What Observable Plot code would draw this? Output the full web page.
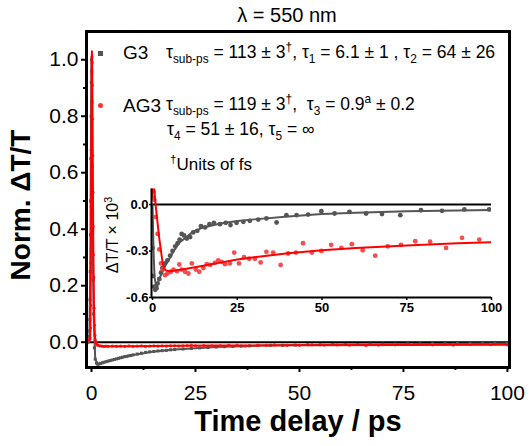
<!DOCTYPE html>
<html><head><meta charset="utf-8">
<script src="https://cdn.jsdelivr.net/npm/d3@7"></script>
<script src="https://cdn.jsdelivr.net/npm/@observablehq/plot@0.6"></script>
<style>
body{margin:0;background:#fff;font-family:"Liberation Sans",Arial,sans-serif;}
#wrap{position:relative;width:529px;height:446px;overflow:hidden;background:#fff}
.abs{position:absolute;white-space:pre;color:#000;line-height:1}
sub,sup{font-size:0.68em;line-height:0}
.rot{transform:translate(-50%,-50%) rotate(-90deg)}
</style></head><body>
<div id="wrap">
<div id="main" class="abs" style="left:0;top:0"></div>
<div id="inset" class="abs" style="left:100px;top:175px"></div>
<div class="abs" style="left:187px;width:200px;top:5px;text-align:center;font-size:20px">λ = 550 nm</div>
<div class="abs" style="left:98px;top:51px;width:5px;height:5px;background:#555"></div>
<div class="abs" style="left:123px;top:43px;font-size:19px">G3</div>
<div class="abs" style="left:166px;top:44px;font-size:17.5px">τ<sub>sub-ps</sub> = 113 ± 3<sup>†</sup>, τ<sub>1</sub> = 6.1 ± 1 , τ<sub>2</sub> = 64 ± 26</div>
<div class="abs" style="left:98px;top:103px;width:5px;height:5px;border-radius:50%;background:#f33"></div>
<div class="abs" style="left:123px;top:96px;font-size:19px">AG3</div>
<div class="abs" style="left:166px;top:96px;font-size:17.5px">τ<sub>sub-ps</sub> = 119 ± 3<sup>†</sup>,  τ<sub>3</sub> = 0.9<sup>a</sup> ± 0.2</div>
<div class="abs" style="left:167px;top:121px;font-size:17.5px">τ<sub>4</sub> = 51 ± 16, τ<sub>5</sub> = ∞</div>
<div class="abs" style="left:170px;top:156px;font-size:17px"><sup>†</sup>Units of fs</div>
<div class="abs rot" style="left:21px;top:205px;font-size:28px;font-weight:bold">Norm. ΔT/T</div>
<div class="abs" style="left:148px;width:300px;top:407px;text-align:center;font-size:29px;font-weight:bold">Time delay / ps</div>
<div class="abs rot" style="left:113px;top:235px;font-size:16px">ΔT/T × 10<sup>3</sup></div>
</div>
<script>
// Main panel (normalized) : [time ps, norm dT/T]
const g3Main = [[-1.1,0.0],[-0.9,0.0],[-0.7,0.004],[-0.6,0.01],[-0.5,0.02],[-0.45,0.04],[-0.4,0.08],[-0.35,0.15],[-0.3,0.25],[-0.25,0.38],[-0.2,0.5],[-0.15,0.65],[-0.1,0.8],[-0.05,0.92],[0,1.0],[0.05,0.96],[0.1,0.85],[0.2,0.62],[0.3,0.4],[0.4,0.22],[0.5,0.1],[0.7,-0.02],[0.9,-0.06],[1.2,-0.074],[1.5,-0.078],[1.8,-0.077],[2.2,-0.075],[2.6,-0.073],[3,-0.071],[3.5,-0.069],[4,-0.067],[4.5,-0.065],[5,-0.063],[5.5,-0.061],[6,-0.059],[6.5,-0.057],[7,-0.055],[7.5,-0.053],[8,-0.051],[8.5,-0.05],[9,-0.048],[9.5,-0.047],[10,-0.045],[11,-0.042],[12,-0.039],[13,-0.036],[14,-0.034],[15,-0.033],[16,-0.031],[17,-0.03],[18,-0.029],[19,-0.027],[20,-0.026],[22,-0.024],[24,-0.022],[26,-0.02],[28,-0.019],[30,-0.017],[32,-0.016],[34,-0.015],[36,-0.014],[38,-0.013],[40,-0.012],[43,-0.011],[46,-0.011],[49,-0.01],[52,-0.009],[55,-0.009],[58,-0.008],[61,-0.008],[64,-0.008],[67,-0.007],[70,-0.007],[73,-0.007],[76,-0.006],[79,-0.006],[82,-0.006],[85,-0.006],[88,-0.005],[91,-0.006],[94,-0.005],[97,-0.005],[100,-0.005]];
const ag3Main = [[-1.1,0.005],[-0.9,0.004],[-0.7,0.008],[-0.5,0.01],[-0.35,0.015],[-0.25,0.05],[-0.2,0.13],[-0.15,0.28],[-0.1,0.48],[-0.05,0.68],[0,0.84],[0.05,0.95],[0.1,1.01],[0.15,0.99],[0.2,0.91],[0.25,0.79],[0.3,0.66],[0.35,0.53],[0.4,0.41],[0.45,0.31],[0.5,0.23],[0.6,0.12],[0.7,0.06],[0.8,0.025],[0.9,0.008],[1.0,-0.002],[1.2,-0.008],[1.5,-0.011],[2,-0.013],[2.5,-0.014],[3,-0.015],[3.5,-0.014],[4,-0.015],[5,-0.014],[6,-0.015],[7,-0.014],[8,-0.015],[9,-0.013],[10,-0.015],[11,-0.014],[12,-0.013],[13,-0.015],[14,-0.014],[15,-0.013],[16,-0.014],[17,-0.013],[18,-0.014],[19,-0.013],[20,-0.013],[21,-0.014],[22,-0.013],[23,-0.012],[24,-0.011],[25,-0.013],[27,-0.012],[29,-0.013],[31,-0.013],[33,-0.011],[35,-0.011],[37,-0.014],[40,-0.011],[42,-0.011],[44,-0.009],[47,-0.011],[50,-0.011],[53,-0.009],[56,-0.01],[59,-0.009],[62,-0.01],[66,-0.012],[69,-0.01],[73,-0.009],[77,-0.008],[82,-0.009],[87,-0.01],[91,-0.008],[96,-0.008],[100,-0.009]];
const g3FitMain = [[-1.1,0.0],[-0.5,0.02],[-0.3,0.25],[-0.1,0.8],[0,1.0],[0.1,0.85],[0.3,0.4],[0.5,0.1],[0.9,-0.06],[1.5,-0.078],[3,-0.071],[5,-0.063],[10,-0.045],[15,-0.033],[20,-0.026],[30,-0.017],[40,-0.012],[60,-0.008],[80,-0.006],[100,-0.005]];
const ag3FitMain = [[-1.1,0.004],[-0.35,0.01],[-0.25,0.05],[-0.15,0.28],[-0.05,0.68],[0.05,0.96],[0.1,1.03],[0.15,1.0],[0.25,0.8],[0.35,0.54],[0.45,0.32],[0.6,0.12],[0.8,0.025],[1,-0.003],[1.5,-0.011],[2.5,-0.014],[5,-0.0145],[10,-0.014],[20,-0.013],[30,-0.012],[50,-0.011],[75,-0.0095],[100,-0.009]];

// Inset (dT/T x 10^3)
const g3Inset = [[0,-0.28],[0.2,-0.46],[0.5,-0.53],[0.8,-0.55],[1.0,-0.53],[1.2,-0.54],[1.5,-0.51],[2.0,-0.48],[2.5,-0.44],[2.9,-0.41],[3.7,-0.38],[4.4,-0.36],[5.2,-0.33],[5.9,-0.30],[6.7,-0.27],[7.4,-0.25],[8.0,-0.226],[8.6,-0.19],[9.3,-0.20],[10.1,-0.22],[11.1,-0.21],[12,-0.18],[13.2,-0.17],[14.3,-0.14],[15.5,-0.148],[16.8,-0.127],[18.1,-0.118],[19.9,-0.127],[21.6,-0.118],[23,-0.133],[24.8,-0.118],[26.8,-0.112],[28.7,-0.105],[31.2,-0.097],[33.6,-0.09],[36.6,-0.116],[39.5,-0.069],[42.5,-0.069],[45.9,-0.065],[49.8,-0.043],[53.7,-0.058],[58.1,-0.047],[63,-0.058],[67.7,-0.062],[73.1,-0.069],[79.2,-0.037],[85.4,-0.041],[92,-0.032],[99.3,-0.032]];
const ag3Inset = [[-0.2,0.05],[0.1,0.09],[0.3,0.08],[0.5,0.03],[1.0,-0.08],[1.5,-0.19],[2.0,-0.29],[2.5,-0.38],[3.0,-0.42],[3.7,-0.456],[4.4,-0.445],[5.4,-0.434],[6.2,-0.42],[7.2,-0.43],[7.9,-0.387],[8.6,-0.42],[9.6,-0.434],[10.6,-0.445],[11.6,-0.38],[12.8,-0.42],[13.8,-0.434],[15,-0.41],[16,-0.385],[17,-0.39],[18.4,-0.376],[19.4,-0.36],[20.4,-0.37],[21.4,-0.385],[22.8,-0.38],[24.1,-0.31],[25.5,-0.38],[27,-0.34],[28.5,-0.35],[30.2,-0.35],[31.9,-0.374],[33.6,-0.305],[35.6,-0.31],[37.8,-0.39],[40,-0.316],[42.3,-0.31],[44.4,-0.25],[47,-0.31],[49.8,-0.30],[52.7,-0.26],[55.7,-0.28],[58.8,-0.256],[62,-0.295],[65.7,-0.33],[69.4,-0.27],[73.3,-0.26],[77.5,-0.237],[81.9,-0.24],[86.6,-0.28],[91.3,-0.215],[96.4,-0.226]];
const g3FitInset = [[0,0],[0.3,-0.3],[0.6,-0.47],[1,-0.52],[1.5,-0.51],[2,-0.48],[3,-0.43],[4,-0.385],[5,-0.35],[6,-0.31],[7,-0.275],[8,-0.245],[10,-0.21],[12,-0.175],[15,-0.148],[20,-0.122],[25,-0.107],[30,-0.096],[40,-0.077],[50,-0.062],[60,-0.053],[75,-0.044],[90,-0.038],[100,-0.035]];
const ag3FitInset = [[-0.2,0.05],[0,0.6],[0.3,0.15],[1,-0.02],[2,-0.22],[3,-0.38],[3.5,-0.415],[4,-0.425],[5,-0.43],[7,-0.425],[10,-0.415],[15,-0.395],[20,-0.375],[25,-0.355],[30,-0.34],[40,-0.315],[50,-0.295],[60,-0.28],[75,-0.265],[90,-0.25],[100,-0.243]];

const xTicksMain = [0,25,50,75,100];
const xMinorMain = [12.5,37.5,62.5,87.5];
const yTicksMain = [0,0.2,0.4,0.6,0.8,1.0];
const yMinorMain = [0.1,0.3,0.5,0.7,0.9];
const xTicksInset = [0,25,50,75,100];
const yTicksInset = [0,-0.3,-0.6];

const GRAY = "#555555", RED = "#ff0000", REDPT = "#f43b3b";

const main = Plot.plot({
  width: 529, height: 446,
  marginLeft: 86, marginRight: 20, marginTop: 31, marginBottom: 79,
  x: {domain: [-1.2, 100.5]},
  y: {domain: [-0.0896, 1.10]},
  style: {fontSize: "21px", fontFamily: "Liberation Sans, Arial, sans-serif", color: "#000", background: "transparent", overflow: "visible"},
  marks: [
    Plot.ruleY([0], {stroke: "#000", strokeWidth: 2}),
    Plot.dot(g3Main, {x: d => d[0], y: d => d[1], symbol: "square", r: 1.7, fill: GRAY, stroke: "none"}),
    Plot.line(g3FitMain, {x: d => d[0], y: d => d[1], stroke: GRAY, strokeWidth: 2}),
    Plot.dot(ag3Main, {x: d => d[0], y: d => d[1], r: 1.7, fill: REDPT, stroke: "none"}),
    Plot.line(ag3FitMain, {x: d => d[0], y: d => d[1], stroke: RED, strokeWidth: 2}),
    Plot.frame({stroke: "#000", strokeWidth: 3}),
    Plot.axisX({ticks: xTicksMain, tickSize: 5, tickPadding: 13, strokeWidth: 2, label: null}),
    Plot.axisX({ticks: xMinorMain, tickSize: 3, strokeWidth: 2, tickFormat: () => "", label: null}),
    Plot.axisY({ticks: yTicksMain, tickSize: 5, tickPadding: 3, strokeWidth: 2, tickFormat: d => d.toFixed(1), label: null}),
    Plot.axisY({ticks: yMinorMain, tickSize: 3, strokeWidth: 2, tickFormat: () => "", label: null})
  ]
});
document.getElementById("main").appendChild(main);

const inset = Plot.plot({
  width: 400, height: 140,
  marginLeft: 51, marginRight: 9, marginTop: 13.5, marginBottom: 18,
  x: {domain: [-0.3, 100]},
  y: {domain: [-0.6, 0.1]},
  style: {fontSize: "13px", fontWeight: "bold", fontFamily: "Liberation Sans, Arial, sans-serif", color: "#000", background: "transparent", overflow: "visible"},
  marks: [
    Plot.ruleY([0], {stroke: "#000", strokeWidth: 2}),
    Plot.dot(g3Inset, {x: d => d[0], y: d => d[1], r: 2.4, fill: GRAY, stroke: "none", clip: true}),
    Plot.line(g3FitInset, {x: d => d[0], y: d => d[1], stroke: GRAY, strokeWidth: 2, clip: true}),
    Plot.dot(ag3Inset, {x: d => d[0], y: d => d[1], r: 2.4, fill: REDPT, fillOpacity: 0.9, stroke: "none", clip: true}),
    Plot.line(ag3FitInset, {x: d => d[0], y: d => d[1], stroke: RED, strokeWidth: 2, clip: true}),
    Plot.axisX({ticks: xTicksInset, tickSize: 3, tickPadding: 2, strokeWidth: 1.5, label: null}),
    Plot.axisY({ticks: yTicksInset, tickSize: 2, tickPadding: 1, strokeWidth: 1.5, tickFormat: d => d.toFixed(1), label: null}),
    Plot.ruleY([-0.6], {stroke: "#000", strokeWidth: 2}),
    Plot.ruleX([-0.3], {stroke: "#000", strokeWidth: 2})
  ]
});
document.getElementById("inset").appendChild(inset);
</script>
</body></html>
